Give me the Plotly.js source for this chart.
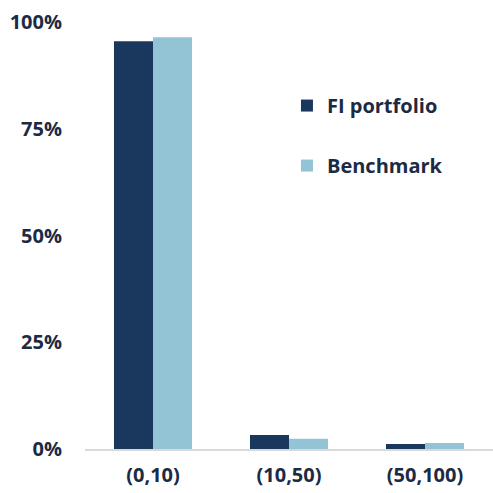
<!DOCTYPE html>
<html><head><meta charset="utf-8">
<script src="https://cdn.plot.ly/plotly-3.0.1.min.js"></script>
<style>html,body{margin:0;padding:0;background:#fff}#c{width:493px;height:493px}</style>
</head><body><div id="c"></div>
<script>
const categories = ["(0,10)", "(10,50)", "(50,100)"];
const fiPortfolio = [95.5, 3.3, 1.2];
const benchmark = [96.4, 2.4, 1.4];
const yTickVals = [0, 25, 50, 75, 100];
const yTickText = ["0%", "25%", "50%", "75%", "100%"];

const font = "'Open Sans', Lato, sans-serif";
const txt = "#1b2b45";
const data = [
  {type: "bar", name: "<b>FI portfolio</b>", x: categories, y: fiPortfolio,
   marker: {color: "#1a375e"}, legendgroup: "a", hoverinfo: "skip"},
  {type: "bar", name: "<b>Benchmark</b>", x: categories, y: benchmark,
   marker: {color: "#93c4d5"}, legendgroup: "b", hoverinfo: "skip"}
];
const layout = {
  width: 493, height: 493,
  margin: {l: 85, r: 0, t: 22, b: 44},
  paper_bgcolor: "#fff", plot_bgcolor: "#fff",
  barmode: "group", bargap: 0.426, bargroupgap: 0,
  font: {family: font, color: txt, size: 20},
  showlegend: true,
  legend: {x: 0.495, y: 0.85, xanchor: "left", yanchor: "top",
           font: {family: font, size: 20, color: txt},
           tracegroupgap: 31, traceorder: "grouped", itemwidth: 30},
  xaxis: {showgrid: false, zeroline: false, showline: true, linecolor: "#d9d9d9", linewidth: 2,
          ticks: "", ticklabelstandoff: 7,
          tickfont: {family: font, size: 20, color: txt, weight: "bold"}, fixedrange: true},
  yaxis: {range: [0, 100], tickvals: yTickVals, ticktext: yTickText, showgrid: false, zeroline: false,
          showline: false, ticks: "", ticklabelstandoff: 22,
          tickfont: {family: font, size: 20, color: txt, weight: "bold"}, fixedrange: true}
};
Plotly.newPlot("c", data, layout, {displayModeBar: false, staticPlot: true});
</script></body></html>
